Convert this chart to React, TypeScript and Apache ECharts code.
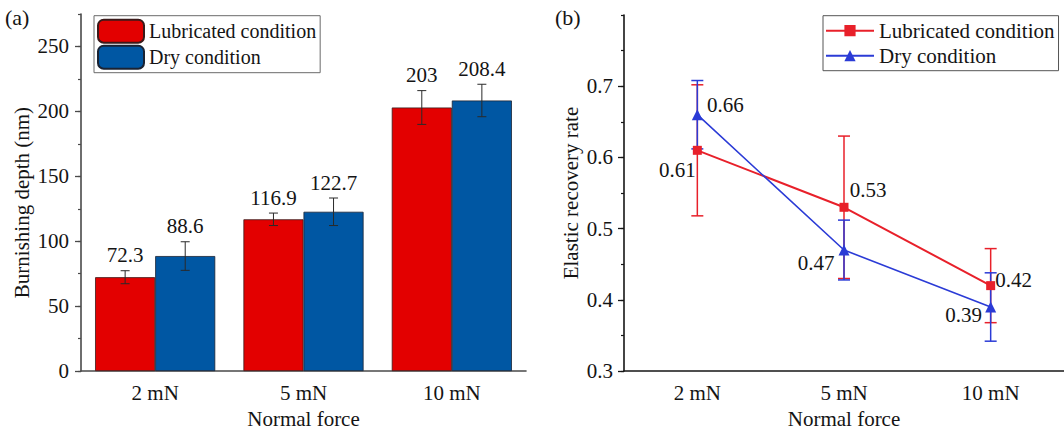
import React, { useEffect, useRef } from "react";
import * as echarts from "echarts";

// Shared categories and legend labels
const forceLevels = ["2 mN", "5 mN", "10 mN"];
const conditionLabels = ["Lubricated condition", "Dry condition"];

// (a) burnishing depth in nm, with error half-widths
const depthLubricated = [72.3, 116.9, 203];
const depthDry = [88.6, 122.7, 208.4];
const depthErrLubricated = [5, 4.8, 13];
const depthErrDry = [11, 10.6, 12.5];
const depthTicks = [0, 50, 100, 150, 200, 250];

// (b) elastic recovery rate, with error half-widths
const recoveryLubricated = [0.61, 0.53, 0.42];
const recoveryDry = [0.66, 0.47, 0.39];
const recoveryErrLubricated = [0.092, 0.1, 0.052];
const recoveryErrDry = [0.048, 0.042, 0.048];
const recoveryTicks = [0.3, 0.4, 0.5, 0.6, 0.7];

// where each value label sits relative to its marker (px)
const lubricatedLabelOffsets = [[-20, 20], [24, -17], [23, -6]];
const dryLabelOffsets = [[28, -10], [-28, 13], [-27, 8]];

const FONT = "Liberation Serif, Times New Roman, serif";
const TEXT = "#141414";
const BAR_RED = "#e30000";
const BAR_BLUE = "#0057a3";
const LINE_RED = "#e8202a";
const LINE_BLUE = "#2b3bd6";
const BAR_SHARE = 0.405;

const seriesKey = {
  depthLub: "depth-lubricated",
  depthDry: "depth-dry",
  recLub: "recovery-lubricated",
  recDry: "recovery-dry",
};
const legendText: Record<string, string> = {
  [seriesKey.depthLub]: conditionLabels[0],
  [seriesKey.depthDry]: conditionLabels[1],
  [seriesKey.recLub]: conditionLabels[0],
  [seriesKey.recDry]: conditionLabels[1],
};

// error bar + value label above each bar
function barErrorRenderer(side: number) {
  return (_params: any, api: any) => {
    const cat = api.value(0);
    const val = api.value(1);
    const err = api.value(2);
    const band = api.size([1, 0])[0];
    const barW = band * BAR_SHARE;
    const x = api.coord([cat, val])[0] + (side * barW) / 2;
    const top = api.coord([cat, val + err])[1];
    const bot = api.coord([cat, val - err])[1];
    const stroke = { stroke: "#2a2a2a", lineWidth: 1 };
    return {
      type: "group",
      children: [
        { type: "line", shape: { x1: x, y1: top, x2: x, y2: bot }, style: stroke },
        { type: "line", shape: { x1: x - 4.5, y1: top, x2: x + 4.5, y2: top }, style: stroke },
        { type: "line", shape: { x1: x - 4.5, y1: bot, x2: x + 4.5, y2: bot }, style: stroke },
        {
          type: "text",
          x,
          y: top - 5,
          style: {
            text: String(val),
            align: "center",
            verticalAlign: "bottom",
            fontFamily: FONT,
            fontSize: 21,
            fill: TEXT,
          },
        },
      ],
    };
  };
}

// vertical error bar with caps in the series colour
function lineErrorRenderer(color: string) {
  return (_params: any, api: any) => {
    const cat = api.value(0);
    const val = api.value(1);
    const err = api.value(2);
    const x = api.coord([cat, val])[0];
    const top = api.coord([cat, val + err])[1];
    const bot = api.coord([cat, val - err])[1];
    const stroke = { stroke: color, lineWidth: 1.5 };
    return {
      type: "group",
      children: [
        { type: "line", shape: { x1: x, y1: top, x2: x, y2: bot }, style: stroke },
        { type: "line", shape: { x1: x - 6, y1: top, x2: x + 6, y2: top }, style: stroke },
        { type: "line", shape: { x1: x - 6, y1: bot, x2: x + 6, y2: bot }, style: stroke },
      ],
    };
  };
}

function categoryAxes(gridIndex: number, color: string) {
  const label = { fontFamily: FONT, fontSize: 21, color: TEXT };
  return [
    {
      gridIndex,
      type: "category",
      data: forceLevels,
      axisLine: { lineStyle: { color, width: 1.6 } },
      axisTick: { alignWithLabel: true, length: 6, lineStyle: { color, width: 1.3 } },
      axisLabel: { ...label, margin: 11 },
      name: "Normal force",
      nameLocation: "middle",
      nameGap: 35,
      nameTextStyle: label,
    },
    {
      gridIndex,
      type: "category",
      data: forceLevels,
      position: "bottom",
      axisLine: { show: false },
      axisTick: { length: 3, lineStyle: { color, width: 1.2 } },
      axisLabel: { show: false },
    },
  ];
}

export default function App() {
  const ref = useRef<HTMLDivElement>(null);

  useEffect(() => {
    if (!ref.current) return;
    const chart = echarts.init(ref.current, undefined, { renderer: "svg" });
    const label = { fontFamily: FONT, fontSize: 21, color: TEXT };
    const leftAxis = "#4a4a4a";
    const rightAxis = "#161616";

    chart.setOption({
      animation: false,
      textStyle: { fontFamily: FONT },
      grid: [
        { left: 81, top: 14, right: 538, bottom: 61 },
        { left: 624, top: 15, right: -4, bottom: 60 },
      ],
      xAxis: [...categoryAxes(0, leftAxis), ...categoryAxes(1, rightAxis)],
      yAxis: [
        {
          gridIndex: 0,
          type: "value",
          min: 0,
          max: 275,
          interval: 25,
          axisLine: { show: true, lineStyle: { color: leftAxis, width: 1.6 } },
          axisTick: { show: true, length: 3, lineStyle: { color: leftAxis, width: 1.2 } },
          axisLabel: { show: false },
          splitLine: { show: false },
        },
        {
          gridIndex: 0,
          type: "value",
          position: "left",
          min: 0,
          max: 275,
          interval: 50,
          axisLine: { show: false },
          axisTick: { show: true, length: 6, customValues: depthTicks, lineStyle: { color: leftAxis, width: 1.3 } },
          axisLabel: { ...label, margin: 12, customValues: depthTicks },
          splitLine: { show: false },
          name: "Burnishing depth (nm)",
          nameLocation: "middle",
          nameGap: 49,
          nameTextStyle: { ...label, padding: [0, 20, 0, 0] },
        },
        {
          gridIndex: 1,
          type: "value",
          min: 0.3,
          max: 0.8,
          interval: 0.05,
          axisLine: { show: true, lineStyle: { color: rightAxis, width: 1.6 } },
          axisTick: { show: true, length: 3, lineStyle: { color: rightAxis, width: 1.2 } },
          axisLabel: { show: false },
          splitLine: { show: false },
        },
        {
          gridIndex: 1,
          type: "value",
          position: "left",
          min: 0.3,
          max: 0.8,
          interval: 0.1,
          axisLine: { show: false },
          axisTick: { show: true, length: 6, customValues: recoveryTicks, lineStyle: { color: rightAxis, width: 1.3 } },
          axisLabel: { ...label, margin: 11, customValues: recoveryTicks, formatter: (v: number) => v.toFixed(1) },
          splitLine: { show: false },
          name: "Elastic recovery rate",
          nameLocation: "middle",
          nameGap: 43,
          nameTextStyle: label,
        },
      ],
      legend: [
        {
          data: [seriesKey.depthLub, seriesKey.depthDry],
          formatter: (n: string) => legendText[n],
          orient: "vertical",
          left: 94,
          top: 15.7,
          padding: [3, 4, 3, 3],
          itemGap: 1,
          itemWidth: 46,
          itemHeight: 23,
          borderColor: "#6a6a6a",
          borderWidth: 1,
          selectedMode: false,
          textStyle: { fontFamily: FONT, fontSize: 20, color: TEXT },
        },
        {
          data: [seriesKey.recLub, seriesKey.recDry],
          formatter: (n: string) => legendText[n],
          orient: "vertical",
          left: 823,
          top: 15.7,
          padding: [3, 4, 3, 2],
          itemGap: 1,
          itemWidth: 48,
          itemHeight: 14,
          borderColor: "#555",
          borderWidth: 1,
          selectedMode: false,
          textStyle: { fontFamily: FONT, fontSize: 21, color: TEXT, lineHeight: 24 },
        },
      ],
      series: [
        {
          type: "bar",
          name: seriesKey.depthLub,
          xAxisIndex: 0,
          yAxisIndex: 0,
          data: depthLubricated,
          barWidth: `${BAR_SHARE * 100}%`,
          barGap: "0%",
          itemStyle: { color: BAR_RED, borderColor: "#3b1a1a", borderWidth: 0.8 },
        },
        {
          type: "bar",
          name: seriesKey.depthDry,
          xAxisIndex: 0,
          yAxisIndex: 0,
          data: depthDry,
          barWidth: `${BAR_SHARE * 100}%`,
          barGap: "0%",
          itemStyle: { color: BAR_BLUE, borderColor: "#1a2333", borderWidth: 0.8 },
        },
        {
          type: "custom",
          xAxisIndex: 0,
          yAxisIndex: 0,
          silent: true,
          z: 5,
          encode: { x: 0, y: 1 },
          data: depthLubricated.map((v, i) => [i, v, depthErrLubricated[i]]),
          renderItem: barErrorRenderer(-1),
        },
        {
          type: "custom",
          xAxisIndex: 0,
          yAxisIndex: 0,
          silent: true,
          z: 5,
          encode: { x: 0, y: 1 },
          data: depthDry.map((v, i) => [i, v, depthErrDry[i]]),
          renderItem: barErrorRenderer(1),
        },
        {
          type: "custom",
          xAxisIndex: 2,
          yAxisIndex: 2,
          silent: true,
          z: 2,
          encode: { x: 0, y: 1 },
          data: recoveryLubricated.map((v, i) => [i, v, recoveryErrLubricated[i]]),
          renderItem: lineErrorRenderer(LINE_RED),
        },
        {
          type: "custom",
          xAxisIndex: 2,
          yAxisIndex: 2,
          silent: true,
          z: 2,
          encode: { x: 0, y: 1 },
          data: recoveryDry.map((v, i) => [i, v, recoveryErrDry[i]]),
          renderItem: lineErrorRenderer(LINE_BLUE),
        },
        {
          type: "line",
          name: seriesKey.recLub,
          xAxisIndex: 2,
          yAxisIndex: 2,
          z: 3,
          symbol: "rect",
          symbolSize: 9,
          color: LINE_RED,
          lineStyle: { color: LINE_RED, width: 2 },
          itemStyle: { color: LINE_RED },
          data: recoveryLubricated.map((v, i) => ({
            value: v,
            label: { offset: lubricatedLabelOffsets[i] },
          })),
          label: {
            show: true,
            position: "inside",
            formatter: (p: any) => String(p.value),
            fontFamily: FONT,
            fontSize: 21,
            color: TEXT,
          },
        },
        {
          type: "line",
          name: seriesKey.recDry,
          xAxisIndex: 2,
          yAxisIndex: 2,
          z: 4,
          symbol: "triangle",
          symbolSize: 11,
          color: LINE_BLUE,
          lineStyle: { color: LINE_BLUE, width: 1.6 },
          itemStyle: { color: LINE_BLUE },
          data: recoveryDry.map((v, i) => ({
            value: v,
            label: { offset: dryLabelOffsets[i] },
          })),
          label: {
            show: true,
            position: "inside",
            formatter: (p: any) => String(p.value),
            fontFamily: FONT,
            fontSize: 21,
            color: TEXT,
          },
        },
      ],
      graphic: [
        {
          type: "text",
          left: 5,
          top: 6,
          style: { text: "(a)", fontFamily: FONT, fontSize: 22, fill: TEXT },
        },
        {
          type: "text",
          left: 555,
          top: 6,
          style: { text: "(b)", fontFamily: FONT, fontSize: 22, fill: TEXT },
        },
      ],
    });

    return () => chart.dispose();
  }, []);

  return (
    <div
      ref={ref}
      style={{ position: "absolute", left: 0, top: 0, width: 1064, height: 434, background: "#fff" }}
    />
  );
}
